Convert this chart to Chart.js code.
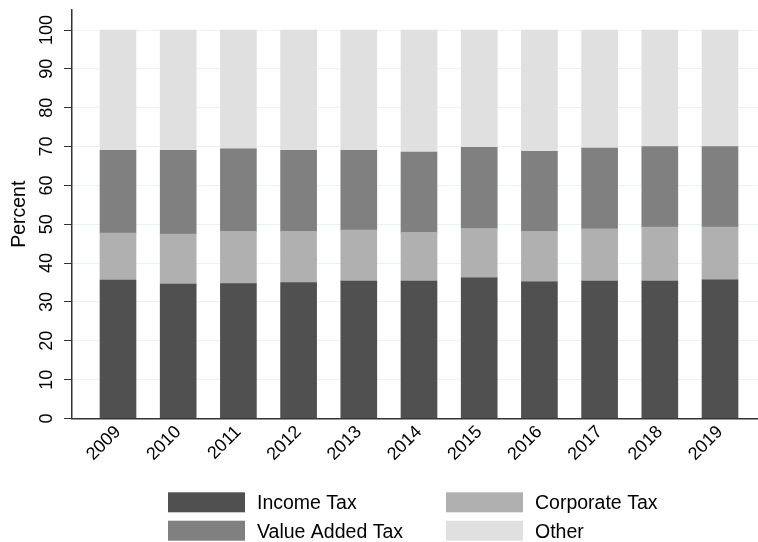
<!DOCTYPE html>
<html>
<head>
<meta charset="utf-8">
<title>Tax revenue shares</title>
<script src="https://cdn.jsdelivr.net/npm/chart.js@4.4.1/dist/chart.umd.min.js"></script>
<style>
  body { margin: 0; background: #fff; }
  #taxChart { display: block; }
</style>
</head>
<body>
<canvas id="taxChart" width="758" height="542"></canvas>
<script>
// share of total revenue by source, percent
const years = [2009, 2010, 2011, 2012, 2013, 2014, 2015, 2016, 2017, 2018, 2019];
const incomeTax = [35.6, 34.6, 34.7, 35.0, 35.4, 35.4, 36.2, 35.2, 35.4, 35.4, 35.7];
const corporateTax = [12.1, 12.9, 13.5, 13.2, 13.1, 12.5, 12.7, 13.0, 13.4, 13.9, 13.6];
const valueAddedTax = [21.3, 21.5, 21.2, 20.8, 20.5, 20.7, 20.9, 20.6, 20.8, 20.7, 20.7];
const otherTax = [31.0, 31.0, 30.6, 31.0, 31.0, 31.4, 30.2, 31.2, 30.4, 30.0, 30.0];
const percentTicks = [0, 10, 20, 30, 40, 50, 60, 70, 80, 90, 100];

const FONT = "'Liberation Sans', Arial, sans-serif";

function toPoints(values) {
  return values.map((v, i) => ({ x: years[i], y: v }));
}

// legend laid out as a 2 x 2 grid under the plot
const gridLegend = {
  id: 'gridLegend',
  afterDraw(chart, args, opts) {
    const ctx = chart.ctx;
    ctx.save();
    ctx.font = opts.fontSize + 'px ' + FONT;
    ctx.textBaseline = 'alphabetic';
    chart.data.datasets.forEach((ds, i) => {
      const x = opts.columns[i % 2];
      const y = opts.rows[Math.floor(i / 2)];
      ctx.fillStyle = ds.backgroundColor;
      ctx.fillRect(x, y - opts.boxHeight / 2, opts.boxWidth, opts.boxHeight);
      ctx.fillStyle = '#000';
      ctx.fillText(ds.label, x + opts.boxWidth + opts.gap, y + opts.fontSize * 0.36);
    });
    ctx.restore();
  }
};

const ctx = document.getElementById('taxChart').getContext('2d');

new Chart(ctx, {
  type: 'bar',
  data: {
    datasets: [
      { label: 'Income Tax', data: toPoints(incomeTax), backgroundColor: '#505050' },
      { label: 'Corporate Tax', data: toPoints(corporateTax), backgroundColor: '#b0b0b0' },
      { label: 'Value Added Tax', data: toPoints(valueAddedTax), backgroundColor: '#808080' },
      { label: 'Other', data: toPoints(otherTax), backgroundColor: '#e0e0e0' }
    ]
  },
  options: {
    responsive: false,
    animation: false,
    devicePixelRatio: 1,
    barThickness: 36,
    layout: { padding: { top: 10, left: 0, right: 0, bottom: 0 } },
    plugins: {
      legend: { display: false },
      tooltip: { enabled: false },
      gridLegend: {
        columns: [168, 446],
        rows: [502.3, 530.7],
        boxWidth: 77,
        boxHeight: 20,
        gap: 12,
        fontSize: 19.5
      }
    },
    scales: {
      x: {
        // linear year axis so the plot keeps the margin left of 2009
        type: 'linear',
        stacked: true,
        offset: false,
        min: 2008.236,
        max: 2019.631,
        grid: { display: false, offset: false },
        border: { display: true, color: '#333', width: 1.5 },
        ticks: {
          color: '#000',
          font: { family: FONT, size: 18 },
          minRotation: 45,
          maxRotation: 45,
          padding: -5,
          callback: v => String(v)
        },
        afterBuildTicks: scale => { scale.ticks = years.map(v => ({ value: v })); },
        afterFit: scale => {
          scale.height = 123.5;
          scale.paddingLeft = 0;
          scale.paddingRight = 0;
        }
      },
      y: {
        stacked: true,
        min: 0,
        max: 105.15,
        grid: { color: '#e9f1f3', lineWidth: 1, tickColor: '#333', tickLength: 8 },
        border: { display: true, color: '#333', width: 1.5 },
        ticks: {
          color: '#000',
          font: { family: FONT, size: 18 },
          minRotation: 90,
          maxRotation: 90,
          crossAlign: 'center',
          padding: 1.5
        },
        afterBuildTicks: scale => { scale.ticks = percentTicks.map(v => ({ value: v })); },
        afterFit: scale => {
          scale.width = 72;
          scale.paddingTop = 0;
          scale.paddingBottom = 0;
        },
        title: {
          display: true,
          text: 'Percent',
          color: '#000',
          font: { family: FONT, size: 19.5 },
          padding: { top: 8, bottom: 0 }
        }
      }
    }
  },
  plugins: [gridLegend]
});
</script>
</body>
</html>
